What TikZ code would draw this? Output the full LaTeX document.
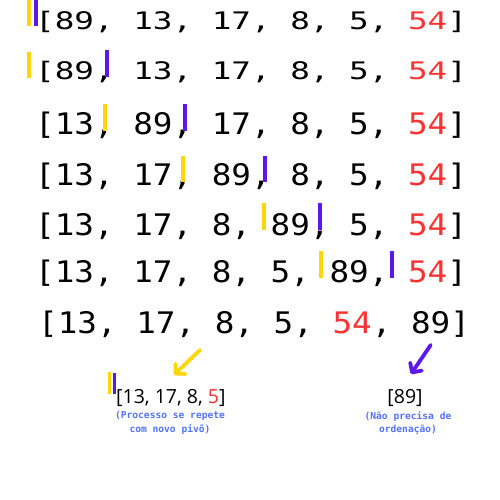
\documentclass[tikz,border=0pt]{standalone}
\usepackage{fontspec}
\usepackage{graphicx}
\usepackage{tikz}
\usetikzlibrary{arrows.meta}
\setmainfont{Open Sans}
\newfontfamily\rowfont{DejaVu Sans Mono}
\newfontfamily\notefont{DejaVu Sans Mono}
\definecolor{pivred}{HTML}{FF3131}
\definecolor{pivpurple}{HTML}{5E17EB}
\definecolor{pivyellow}{HTML}{FFD60A}
\definecolor{noteblue}{HTML}{5271FF}
\def\pv#1{\textcolor{pivred}{#1}}
\def\tall#1{\scalebox{1}[0.91]{#1}}
\def\flat#1{\scalebox{1}[0.74]{#1}}

\begin{document}
\begin{tikzpicture}[x=1pt,y=-1pt,
		row/.style={anchor=base west, inner sep=0pt, font=\rowfont\fontsize{32.6}{34}\selectfont},
		sub/.style={anchor=base west, inner sep=0pt, font=\fontsize{19.5}{22}\selectfont},
		note/.style={align=center, inner sep=0pt, text=noteblue, font=\notefont\bfseries\fontsize{9.6}{13.3}\selectfont},
		ybar/.style={draw=pivyellow, line width=3.7pt},
		pbar/.style={draw=pivpurple, line width=3.7pt},
		yarrow/.style={draw=pivyellow, line width=3.8pt, line cap=round, -{Straight Barb[length=7pt,width=14pt,round]}},
		parrow/.style={draw=pivpurple, line width=3.8pt, line cap=round, -{Straight Barb[length=7pt,width=14pt,round]}}]
	\useasboundingbox (0,0) rectangle (500,500);
	
	% linhas da particao
	\node[row] (r1) at (35,30) {\flat{[89, 13, 17, 8, 5, \pv{54}]}};
	\node[row] (r2) at (35,80) {\flat{[89, 13, 17, 8, 5, \pv{54}]}};
	\node[row] (r3) at (35,135) {\tall{[13, 89, 17, 8, 5, \pv{54}]}};
	\node[row] (r4) at (35,185) {\tall{[13, 17, 89, 8, 5, \pv{54}]}};
	\node[row] (r5) at (35,235) {\tall{[13, 17, 8, 89, 5, \pv{54}]}};
	\node[row] (r6) at (35,282) {\tall{[13, 17, 8, 5, 89, \pv{54}]}};
	\node[row] (r7) at (38,333) {\tall{[13, 17, 8, 5, \pv{54}, 89]}};
	
	% ponteiros
	\draw[ybar] (29,0) -- (29,26);
	\draw[pbar] (36.2,0) -- (36.2,26);
	\draw[ybar] (29,52) -- (29,78);
	\draw[pbar] (107,50) -- (107,77);
	\draw[ybar] (105,104) -- (105,131);
	\draw[pbar] (184.7,104) -- (184.7,131);
	\draw[ybar] (183.3,156) -- (183.3,182);
	\draw[pbar] (264.7,156) -- (264.7,182);
	\draw[ybar] (264.2,203) -- (264.2,230);
	\draw[pbar] (320.3,203) -- (320.3,230);
	\draw[ybar] (320.8,251) -- (320.8,278);
	\draw[pbar] (392,251) -- (392,278);
	
	% sublistas
	\node[sub] (left) at (116,403) {[13, 17, 8, \pv{5}]};
	\node[sub, anchor=base] (right) at (405,403) {[89]};
	\draw[ybar, line width=3.3pt] (109.2,372) -- (109.2,394);
	\draw[pbar, line width=3.3pt] (114.3,373) -- (114.3,394);
	
	\coordinate (ystart) at (200,350);
	\coordinate (ytip) at (174,375);
	\coordinate (pstart) at (430.7,345);
	\coordinate (ptip) at (411,374);
	\draw[yarrow] (ystart) -- (ytip);
	\draw[parrow] (pstart) -- (ptip);
	
	\node[note] (leftnote) at (170,423) {(Processo se repete\\com novo pivô)};
	\node[note] (rightnote) at (408,423) {(Não precisa de\\ordenação)};
\end{tikzpicture}
\end{document}
